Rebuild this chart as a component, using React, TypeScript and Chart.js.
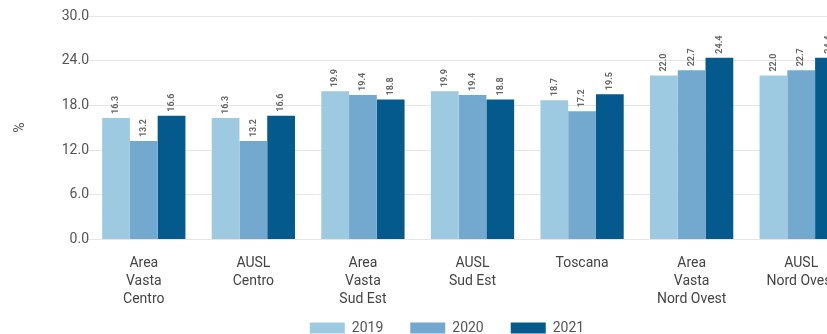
import React, { useEffect, useRef } from 'react';
import { Chart, registerables } from 'chart.js';

Chart.register(...registerables);

const categories: string[][] = [
  ['Area', 'Vasta', 'Centro'],
  ['AUSL', 'Centro'],
  ['Area', 'Vasta', 'Sud Est'],
  ['AUSL', 'Sud Est'],
  ['Toscana'],
  ['Area', 'Vasta', 'Nord Ovest'],
  ['AUSL', 'Nord Ovest'],
];
const seriesNames = ['2019', '2020', '2021'];
const values2019 = [16.3, 16.3, 19.9, 19.9, 18.7, 22.0, 22.0];
const values2020 = [13.2, 13.2, 19.4, 19.4, 17.2, 22.7, 22.7];
const values2021 = [16.6, 16.6, 18.8, 18.8, 19.5, 24.4, 24.4];
const yTicks = [0, 6, 12, 18, 24, 30];

const COLORS = ['#9ecae1', '#74a9cf', '#045a8d'];
const FONT = 'Roboto, "DejaVu Sans", sans-serif';

const barLabels = {
  id: 'barLabels',
  afterDatasetsDraw(chart: any) {
    const ctx = chart.ctx;
    ctx.save();
    ctx.font = `bold 9px ${FONT}`;
    ctx.fillStyle = '#666666';
    ctx.textAlign = 'left';
    ctx.textBaseline = 'middle';
    chart.data.datasets.forEach((ds: any, i: number) => {
      const meta = chart.getDatasetMeta(i);
      meta.data.forEach((bar: any, j: number) => {
        ctx.save();
        ctx.translate(bar.x, bar.y - 4);
        ctx.rotate(-Math.PI / 2);
        ctx.fillText(Number(ds.data[j]).toFixed(1), 0, 0);
        ctx.restore();
      });
    });
    ctx.restore();
  },
};

// nudges the legend box closer to the axis labels and centres it like the original
const legendNudge = {
  id: 'legendNudge',
  afterLayout(chart: any) {
    const lg = chart.legend;
    if (!lg) return;
    const dy = -30;
    const dx = 15;
    lg.top += dy;
    lg.bottom += dy;
    lg.left += dx;
    lg.right += dx;
  },
};

export default function App() {
  const ref = useRef<HTMLCanvasElement>(null);

  useEffect(() => {
    if (!ref.current) return;
    const allValues = [values2019, values2020, values2021];
    const chart = new Chart(ref.current, {
      type: 'bar',
      data: {
        labels: categories,
        datasets: seriesNames.map((name, i) => ({
          label: name,
          data: allValues[i],
          backgroundColor: COLORS[i],
          borderWidth: 0,
          barPercentage: 1,
          categoryPercentage: 0.76,
        })),
      },
      options: {
        animation: false,
        responsive: false,
        devicePixelRatio: 1,
        layout: { padding: { left: 0, right: 30, top: 8, bottom: 0 } },
        plugins: {
          tooltip: { enabled: false },
          legend: {
            position: 'bottom',
            labels: {
              boxWidth: 35,
              boxHeight: 11,
              padding: 27,
              color: '#555555',
              font: { family: FONT, size: 14 },
            },
          },
        },
        scales: {
          x: {
            grid: { display: false, drawTicks: false },
            border: { display: false },
            ticks: {
              padding: 15,
              color: '#444444',
              font: { family: FONT, size: 14, lineHeight: 1.3 },
              maxRotation: 0,
              autoSkip: false,
            },
          },
          y: {
            min: 0,
            max: 30,
            afterBuildTicks(scale: any) {
              scale.ticks = yTicks.map((v) => ({ value: v }));
            },
            afterFit(scale: any) {
              scale.width = 81;
            },
            grid: { color: '#e6e6e6', tickLength: 4, lineWidth: 1 },
            border: { display: false },
            ticks: {
              padding: -4,
              color: '#555555',
              font: { family: FONT, size: 14 },
              callback: (v: any) => Number(v).toFixed(1),
            },
            title: {
              display: true,
              text: '%',
              color: '#555555',
              font: { family: FONT, size: 14 },
            },
          },
        },
      },
      plugins: [barLabels, legendNudge],
    });
    return () => chart.destroy();
  }, []);

  return (
    <div style={{ position: 'fixed', left: 8, top: 8, width: 819, height: 326, overflow: 'hidden' }}>
      <canvas ref={ref} width={878} height={367} style={{ width: 878, height: 367, display: 'block' }} />
    </div>
  );
}
